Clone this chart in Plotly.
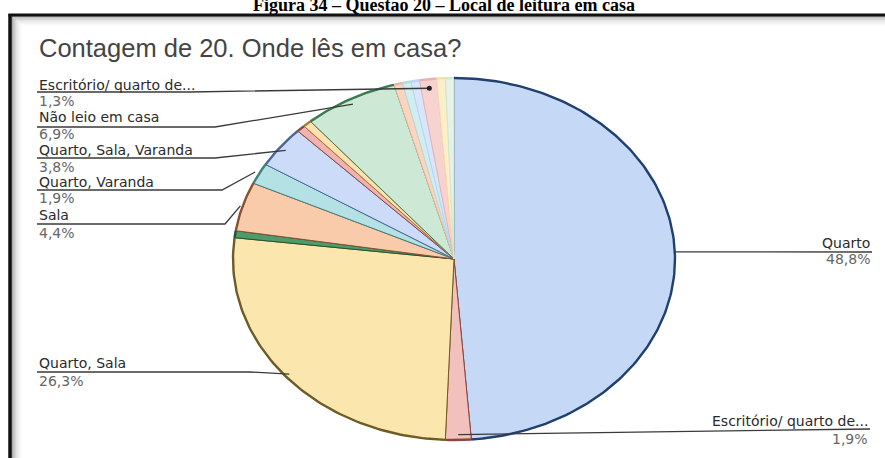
import numpy as np
import plotly.graph_objects as go
from decimal import Decimal, ROUND_HALF_UP

# Question 20 answers (respondent counts), in slice order, clockwise from 12 o'clock
categories = [
    "Quarto", "Escritório/ quarto de estudos", "Quarto, Sala", "Quarto, Cozinha",
    "Sala", "Quarto, Varanda", "Quarto, Sala, Varanda", "Cozinha", "Varanda",
    "Não leio em casa", "Sala, Varanda", "Quarto, Biblioteca", "Biblioteca",
    "Escritório/ quarto de leitura", "Quintal", "Outro",
]
counts = [78, 3, 42, 1, 7, 3, 6, 1, 1, 11, 1, 1, 1, 2, 1, 1]

# slice fills and their darker outlines
slice_fill = ["#c5d8f6", "#f3c1bd", "#fbe6ae", "#4f9a6a", "#f9cbab", "#b4e2e4",
              "#ccdbf8", "#f0b3ad", "#fde2b0", "#cde9d6", "#fbd5c0", "#d0eef0",
              "#d8e5fb", "#f8d2cf", "#fdf0c9", "#e4f2e8"]
slice_edge = ["#22406e", "#8e4540", "#6e5c22", "#1f5533", "#8c4f2e", "#3e7f82",
              "#4a6698", "#8e4540", "#a07c3a", "#3c7a52", "#e8b79c", "#b0dde0",
              "#bed2f2", "#e8b3ae", "#f2e0a8", "#cfe6d5"]

W, H = 885, 458
CX, CY, RX, RY = 454, 259, 221, 181   # pie centre and radii (pixels)

total = sum(counts)
bounds = np.concatenate([[0], np.cumsum(counts)]) / total * 2 * np.pi


def pt(theta, r=1.0):
    return CX + RX * r * np.sin(theta), CY - RY * r * np.cos(theta)


def pct(c):
    d = (Decimal(c) * 100 / Decimal(total)).quantize(Decimal("0.1"), ROUND_HALF_UP)
    return str(d).replace(".", ",") + "%"


def short(name):
    return name if len(name) <= 24 else name[:21] + "..."


fig = go.Figure()

# wedges
for i, c in enumerate(counts):
    a0, a1 = bounds[i], bounds[i + 1]
    th = np.linspace(a0, a1, max(4, int(np.degrees(a1 - a0)) + 2))
    xs, ys = pt(th)
    fig.add_trace(go.Scatter(
        x=np.r_[CX, xs, CX], y=np.r_[CY, ys, CY], mode="lines",
        fill="toself", fillcolor=slice_fill[i],
        line=dict(color=slice_edge[i], width=1),
        hoverinfo="skip", showlegend=False))

# darker rim along the outer arc
for i, c in enumerate(counts):
    a0, a1 = bounds[i], bounds[i + 1]
    th = np.linspace(a0, a1, max(4, int(np.degrees(a1 - a0)) + 2))
    xs, ys = pt(th)
    fig.add_trace(go.Scatter(
        x=xs, y=ys, mode="lines", line=dict(color=slice_edge[i], width=2.4),
        hoverinfo="skip", showlegend=False))

# label placement: (slice index, name y, underline y, percent y, elbow/text x, anchor radius)
left_labels = [
    (13, 85, 92, 101, 190, 0.95),
    (9, 117, 127, 134, 215, 0.97),
    (6, 150, 158, 167, 215, 0.97),
    (5, 182, 190, 198, 222, 1.02),
    (4, 215, 224, 233, 225, 1.01),
    (2, 363, 372, 381, 250, 0.98),
]
right_labels = [
    (0, 243, 252, 259, 872, 1.0),
    (1, 421, 429, 439, 870, 0.97),
]
LEFT_X = 37
LINE_C = "#3a3a3a"
NAME_FONT = dict(family="DejaVu Sans, Arial", size=14, color="#2a2a2a")
PCT_FONT = dict(family="DejaVu Sans, Arial", size=14, color="#666666")

ann = []
for idx, ny, ly, py, ex, r in left_labels:
    mid = (bounds[idx] + bounds[idx + 1]) / 2
    ax, ay = pt(mid, r)
    fig.add_trace(go.Scatter(x=[LEFT_X, ex, ax], y=[ly, ly, ay], mode="lines",
                             line=dict(color=LINE_C, width=1.3),
                             hoverinfo="skip", showlegend=False))
    ann.append(dict(x=LEFT_X, y=ny, text=short(categories[idx]), xanchor="left",
                    yanchor="middle", font=NAME_FONT))
    ann.append(dict(x=LEFT_X, y=py, text=pct(counts[idx]), xanchor="left",
                    yanchor="middle", font=PCT_FONT))

for idx, ny, ly, py, tx, r in right_labels:
    mid = (bounds[idx] + bounds[idx + 1]) / 2
    ax, ay = pt(mid, r)
    fig.add_trace(go.Scatter(x=[ax, tx], y=[ay, ly], mode="lines",
                             line=dict(color=LINE_C, width=1.3),
                             hoverinfo="skip", showlegend=False))
    ann.append(dict(x=tx, y=ny, text=short(categories[idx]), xanchor="right",
                    yanchor="middle", font=NAME_FONT))
    ann.append(dict(x=tx, y=py, text=pct(counts[idx]), xanchor="right",
                    yanchor="middle", font=PCT_FONT))

# dot at the end of the small "Escritório" leader
mid = (bounds[13] + bounds[14]) / 2
dx, dy = pt(mid, 0.95)
fig.add_trace(go.Scatter(x=[dx], y=[dy], mode="markers",
                         marker=dict(size=5, color="#222"),
                         hoverinfo="skip", showlegend=False))

# chart title and figure caption
ann.append(dict(x=37, y=48, text="Contagem de 20. Onde lês em casa?", xanchor="left",
                yanchor="middle", font=dict(family="Arial, Liberation Sans", size=25.5, color="#444")))
ann.append(dict(x=444, y=5, text="<b>Figura 34 – Questão 20 – Local de leitura em casa</b>",
                xanchor="center", yanchor="middle",
                font=dict(family="Liberation Serif, Times New Roman", size=18, color="#000")))

for a in ann:
    a.update(xref="x", yref="y", showarrow=False)

# frame with inner shadow
shapes = []
for k, alpha in enumerate([0.35, 0.25, 0.17, 0.11, 0.07, 0.04, 0.02]):
    off = 12 + k * 1.5
    shapes.append(dict(type="line", xref="x", yref="y", x0=off, x1=off, y0=off + 4, y1=H + 5,
                       line=dict(color=f"rgba(0,0,0,{alpha})", width=1.6)))
    shapes.append(dict(type="line", xref="x", yref="y", x0=off, x1=W + 5, y0=off + 4, y1=off + 4,
                       line=dict(color=f"rgba(0,0,0,{alpha})", width=1.6)))
shapes.append(dict(type="line", xref="x", yref="y", x0=10, x1=10, y0=14, y1=H + 5,
                   line=dict(color="#111", width=3.5)))
shapes.append(dict(type="line", xref="x", yref="y", x0=8.5, x1=W + 5, y0=15, y1=15,
                   line=dict(color="#111", width=3)))

fig.update_layout(
    width=W, height=H, margin=dict(l=0, r=0, t=0, b=0),
    paper_bgcolor="white", plot_bgcolor="white",
    xaxis=dict(range=[0, W], visible=False, fixedrange=True),
    yaxis=dict(range=[H, 0], visible=False, fixedrange=True),
    annotations=ann, shapes=shapes, showlegend=False,
)

fig.write_html("out.html")
